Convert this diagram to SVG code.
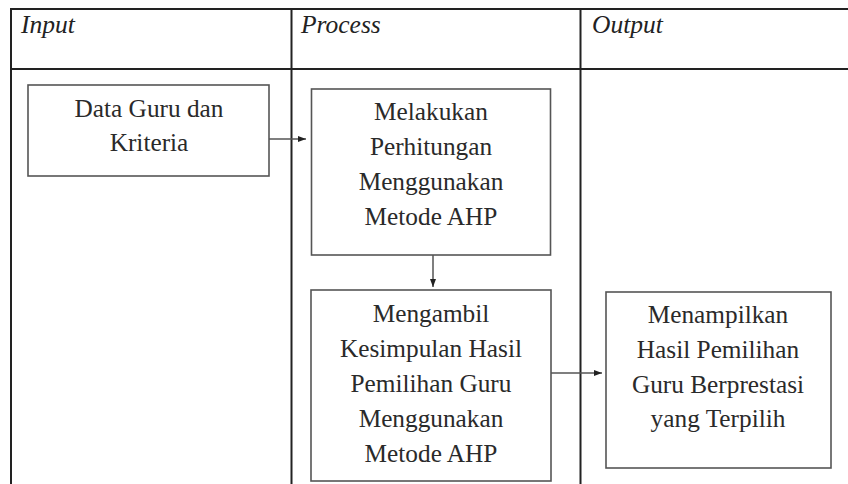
<svg xmlns="http://www.w3.org/2000/svg" width="848" height="484" viewBox="0 0 848 484">
<style>
.tbl{stroke:#222;stroke-width:2;fill:none}
.box{fill:#fff;stroke:#555;stroke-width:1.6}
.hd{font-family:"Liberation Serif","Times New Roman",serif;font-style:italic;font-size:25.5px;fill:#222}
.tx{font-family:"Liberation Serif","Times New Roman",serif;font-size:25.3px;fill:#2a2a2a;text-anchor:middle}
.conn{stroke:#555;stroke-width:1.5;fill:none}
</style>
<defs>
<marker id="ah" viewBox="0 0 8 6" refX="8" refY="3" markerWidth="8" markerHeight="6" markerUnits="userSpaceOnUse" orient="auto">
<path d="M0,0 L8,3 L0,6 Z" fill="#222"/>
</marker>
</defs>
<rect width="848" height="484" fill="#fff"/>
<g id="table">
<line class="tbl" x1="11" y1="9" x2="848" y2="9"/>
<line class="tbl" x1="11" y1="69" x2="848" y2="69"/>
<line class="tbl" x1="11" y1="8" x2="11" y2="484"/>
<line class="tbl" x1="291.5" y1="8" x2="291.5" y2="484"/>
<line class="tbl" x1="580.5" y1="8" x2="580.5" y2="484"/>
<text class="hd" x="21" y="33">Input</text>
<text class="hd" x="301" y="33">Process</text>
<text class="hd" x="592" y="33">Output</text>
</g>
<g id="connectors">
<line class="conn" x1="269" y1="139" x2="306" y2="139" marker-end="url(#ah)"/>
<line class="conn" x1="433" y1="255" x2="433" y2="287" marker-end="url(#ah)"/>
<line class="conn" x1="551" y1="373" x2="602" y2="373" marker-end="url(#ah)"/>
</g>
<g id="node-input">
<rect class="box" x="28" y="85" width="241" height="91"/>
<text class="tx" x="149" y="117">Data Guru dan</text>
<text class="tx" x="149" y="151">Kriteria</text>
</g>
<g id="node-process1">
<rect class="box" x="311.5" y="89" width="239" height="166"/>
<text class="tx" x="431" y="120">Melakukan</text>
<text class="tx" x="431" y="155">Perhitungan</text>
<text class="tx" x="431" y="190">Menggunakan</text>
<text class="tx" x="431" y="225">Metode AHP</text>
</g>
<g id="node-process2">
<rect class="box" x="311" y="290" width="240" height="191"/>
<text class="tx" x="431" y="322">Mengambil</text>
<text class="tx" x="431" y="357">Kesimpulan Hasil</text>
<text class="tx" x="431" y="392">Pemilihan Guru</text>
<text class="tx" x="431" y="427">Menggunakan</text>
<text class="tx" x="431" y="462">Metode AHP</text>
</g>
<g id="node-output">
<rect class="box" x="606" y="292" width="225" height="176"/>
<text class="tx" x="718" y="323">Menampilkan</text>
<text class="tx" x="718" y="358">Hasil Pemilihan</text>
<text class="tx" x="718" y="393">Guru Berprestasi</text>
<text class="tx" x="718" y="427">yang Terpilih</text>
</g>
</svg>
